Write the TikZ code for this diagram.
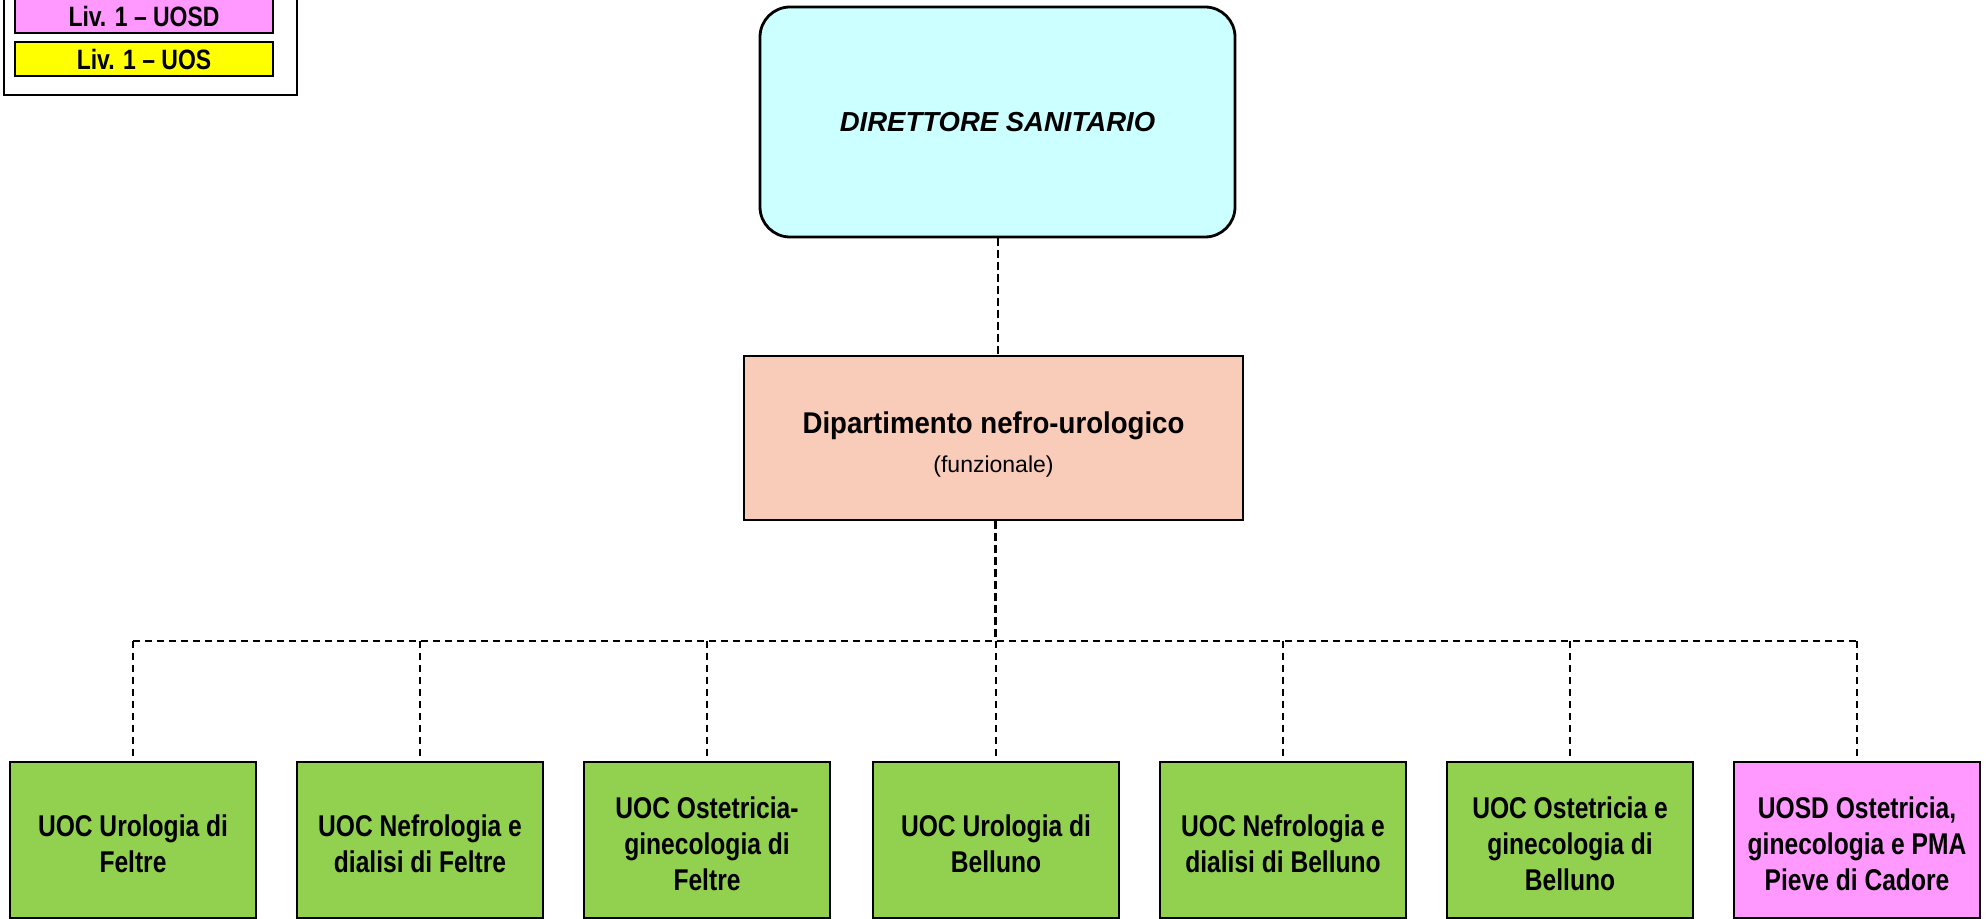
\documentclass[tikz,border=0pt]{standalone}
\usepackage{fontspec}
\setmainfont{Liberation Sans}
\newfontfamily\narrowfont{Liberation Sans}[FakeStretch=0.82]
\newfontfamily\semifont{Liberation Sans}[FakeStretch=0.92]
\definecolor{dircyan}{HTML}{CCFFFF}
\definecolor{deptpeach}{HTML}{F9CBB9}
\definecolor{uocgreen}{HTML}{92D050}
\definecolor{uosdpink}{HTML}{FF99FF}
\definecolor{uosyellow}{HTML}{FFFF00}
\tikzset{
  unitbox/.style={draw=black, line width=1.4pt, inner sep=0pt, align=center,
    minimum width=123pt, minimum height=78pt,
    font=\narrowfont\bfseries\fontsize{15}{18}\selectfont},
  legbox/.style={draw=black, line width=1pt, inner sep=0pt,
    minimum width=129pt, minimum height=17pt,
    font=\narrowfont\bfseries\fontsize{14}{16}\selectfont},
  conn/.style={dash pattern=on 3.6pt off 2.4pt, line width=1pt},
}
\newcommand{\topstrut}[1]{\rule{0pt}{#1}}
\begin{document}
\begin{tikzpicture}[x=0.5pt,y=-0.5pt]
\useasboundingbox (0,0) rectangle (1986,919);
\clip (0,0) rectangle (1986,919);

% legend
\node[draw=black, line width=1pt, minimum width=146.5pt, minimum height=77.5pt, inner sep=0pt] (legend) at (150.5,17.5) {};
\node[legbox, fill=uosdpink] (legUOSD) at (144,16) {Liv. 1 – UOSD};
\node[legbox, fill=uosyellow] (legUOS) at (144,59) {Liv. 1 – UOS};

% director
\node[draw=black, line width=1.4pt, rounded corners=15pt, fill=dircyan,
      minimum width=237.5pt, minimum height=115pt, inner sep=0pt,
      font=\bfseries\itshape\fontsize{13.75}{16}\selectfont] (dir) at (997.5,122) {DIRETTORE SANITARIO};

% department
\node[draw=black, line width=1.4pt, fill=deptpeach, align=center,
      minimum width=249.5pt, minimum height=82pt, inner sep=0pt,
      font=\fontsize{11.5}{19.5}\selectfont] (dept) at (993.5,438)
      {{\semifont\bfseries\fontsize{15}{18}\selectfont\topstrut{17pt}Dipartimento nefro-urologico}\\(funzionale)};

% units
\node[unitbox, fill=uocgreen] (b1) at (133,840) {\topstrut{15pt}UOC Urologia di\\Feltre};
\node[unitbox, fill=uocgreen] (b2) at (420,840) {\topstrut{15pt}UOC Nefrologia e\\dialisi di Feltre};
\node[unitbox, fill=uocgreen] (b3) at (707,840) {\topstrut{15pt}UOC Ostetricia-\\ginecologia di\\Feltre};
\node[unitbox, fill=uocgreen] (b4) at (996,840) {\topstrut{15pt}UOC Urologia di\\Belluno};
\node[unitbox, fill=uocgreen] (b5) at (1283,840) {\topstrut{15pt}UOC Nefrologia e\\dialisi di Belluno};
\node[unitbox, fill=uocgreen] (b6) at (1570,840) {\topstrut{15pt}UOC Ostetricia e\\ginecologia di\\Belluno};
\node[unitbox, fill=uosdpink] (b7) at (1857,840) {\topstrut{15pt}UOSD Ostetricia,\\ginecologia e PMA\\Pieve di Cadore};

% connectors
\coordinate (bus) at (995,641);
\draw[conn] (dir.south) -- (dir.south |- dept.north);
\draw[conn, line width=1.5pt] (dept.south -| bus) -- (bus);
\draw[conn] (b1.north |- bus) -- (b7.north |- bus);
\foreach \b in {b1,b2,b3,b4,b5,b6,b7}{
  \draw[conn] (\b.north |- bus) -- (\b.north);
}
\end{tikzpicture}
\end{document}
